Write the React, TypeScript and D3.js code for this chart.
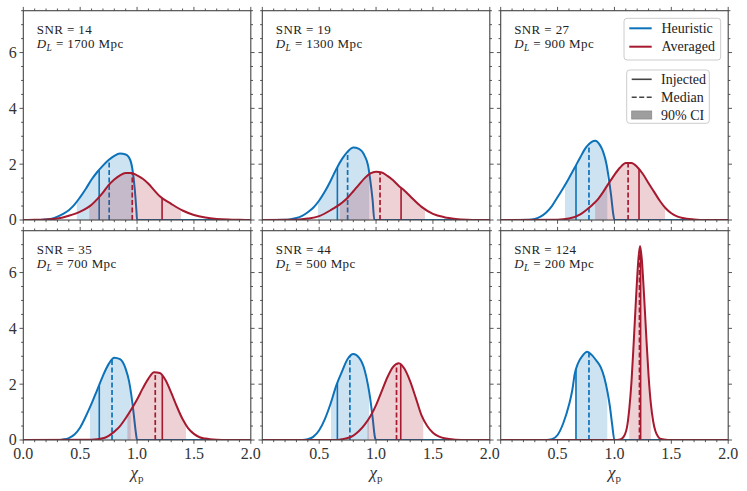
// @ts-nocheck

import { useEffect, useRef } from "react";
import * as d3 from "d3";

const snrs = [14, 19, 27, 35, 44, 124];
const distances = [1700, 1300, 900, 700, 500, 200];

// [chi_p, density]
const heuristic14 = [[0,0],[0.15,0],[0.2,0.02],[0.25,0.05],[0.3,0.12],[0.35,0.22],[0.4,0.35],[0.45,0.55],[0.5,0.82],[0.55,1.12],[0.6,1.45],[0.65,1.72],[0.7,1.95],[0.75,2.15],[0.8,2.3],[0.85,2.38],[0.9,2.35],[0.94,2.15],[0.96,1.8],[0.98,1.1],[0.995,0.3],[1.0,0],[2,0]];
const averaged14 = [[0,0],[0.1,0.005],[0.2,0.015],[0.3,0.05],[0.4,0.15],[0.5,0.3],[0.6,0.55],[0.65,0.75],[0.7,0.98],[0.75,1.25],[0.8,1.45],[0.85,1.6],[0.9,1.68],[0.95,1.68],[1.0,1.6],[1.05,1.48],[1.1,1.3],[1.15,1.07],[1.2,0.85],[1.3,0.58],[1.4,0.34],[1.5,0.18],[1.6,0.09],[1.7,0.04],[1.8,0.015],[1.9,0.005],[2,0]];
const heuristic19 = [[0,0],[0.2,0.01],[0.25,0.03],[0.3,0.07],[0.35,0.15],[0.4,0.28],[0.45,0.45],[0.5,0.7],[0.55,1.02],[0.6,1.4],[0.65,1.82],[0.7,2.18],[0.75,2.45],[0.8,2.6],[0.85,2.55],[0.9,2.3],[0.93,1.95],[0.95,1.4],[0.97,0.7],[0.985,0],[2,0]];
const averaged19 = [[0,0],[0.3,0.01],[0.4,0.05],[0.5,0.14],[0.6,0.35],[0.7,0.62],[0.75,0.8],[0.8,1.03],[0.85,1.27],[0.9,1.5],[0.95,1.67],[1.0,1.73],[1.05,1.7],[1.1,1.58],[1.15,1.42],[1.2,1.22],[1.25,1.05],[1.3,0.85],[1.4,0.47],[1.5,0.22],[1.6,0.1],[1.7,0.04],[1.8,0.01],[1.9,0],[2,0]];
const heuristic27 = [[0,0],[0.25,0.01],[0.3,0.04],[0.35,0.12],[0.4,0.27],[0.45,0.5],[0.5,0.82],[0.55,1.15],[0.6,1.5],[0.65,1.87],[0.7,2.25],[0.75,2.6],[0.8,2.8],[0.83,2.84],[0.87,2.7],[0.9,2.45],[0.93,2.0],[0.95,1.5],[0.97,0.9],[0.99,0.2],[1.0,0],[2,0]];
const averaged27 = [[0,0],[0.5,0.01],[0.6,0.05],[0.7,0.2],[0.75,0.35],[0.8,0.52],[0.85,0.72],[0.9,1.0],[0.95,1.32],[1.0,1.62],[1.05,1.88],[1.1,2.04],[1.15,2.04],[1.2,1.9],[1.25,1.65],[1.3,1.32],[1.35,1.0],[1.4,0.68],[1.45,0.42],[1.5,0.24],[1.55,0.13],[1.6,0.07],[1.7,0.02],[1.8,0],[2,0]];
const heuristic35 = [[0,0],[0.3,0],[0.35,0.02],[0.4,0.07],[0.45,0.2],[0.5,0.45],[0.55,0.85],[0.6,1.3],[0.65,1.8],[0.7,2.3],[0.75,2.72],[0.8,2.95],[0.85,2.9],[0.9,2.55],[0.93,2.1],[0.95,1.6],[0.97,0.95],[0.99,0.25],[1.0,0],[2,0]];
const averaged35 = [[0,0],[0.6,0.01],[0.7,0.06],[0.75,0.15],[0.8,0.3],[0.85,0.5],[0.9,0.78],[0.95,1.1],[1.0,1.45],[1.05,1.85],[1.1,2.2],[1.15,2.43],[1.2,2.4],[1.25,2.15],[1.3,1.7],[1.35,1.2],[1.4,0.75],[1.45,0.42],[1.5,0.22],[1.55,0.1],[1.6,0.05],[1.7,0.01],[1.8,0],[2,0]];
const heuristic44 = [[0,0],[0.35,0],[0.4,0.03],[0.45,0.12],[0.5,0.35],[0.55,0.75],[0.6,1.3],[0.65,1.95],[0.7,2.45],[0.75,2.9],[0.8,3.08],[0.85,2.95],[0.9,2.5],[0.93,1.95],[0.95,1.45],[0.97,0.8],[0.99,0.1],[1.0,0],[2,0]];
const averaged44 = [[0,0],[0.65,0],[0.7,0.03],[0.75,0.07],[0.8,0.16],[0.85,0.32],[0.9,0.55],[0.95,0.85],[1.0,1.25],[1.05,1.75],[1.1,2.25],[1.15,2.62],[1.2,2.75],[1.25,2.55],[1.3,2.1],[1.35,1.5],[1.4,0.88],[1.45,0.5],[1.5,0.26],[1.55,0.13],[1.6,0.06],[1.7,0.01],[1.8,0],[2,0]];
const heuristic124 = [[0,0],[0.4,0],[0.45,0.03],[0.5,0.18],[0.55,0.6],[0.6,1.25],[0.63,1.8],[0.65,2.35],[0.68,2.75],[0.72,3.02],[0.76,3.16],[0.8,3.05],[0.84,2.85],[0.88,2.6],[0.91,2.25],[0.94,1.7],[0.96,1.2],[0.98,0.55],[1.0,0],[2,0]];
const averaged124 = [[0,0],[1.0,0],[1.05,0.02],[1.07,0.06],[1.09,0.18],[1.11,0.45],[1.13,1.1],[1.15,2.1],[1.17,3.55],[1.19,5.1],[1.21,6.45],[1.225,6.95],[1.24,6.5],[1.26,5.2],[1.28,3.7],[1.3,2.3],[1.32,1.3],[1.34,0.68],[1.36,0.32],[1.38,0.14],[1.4,0.05],[1.45,0.01],[1.5,0],[2,0]];

const heuristicCurves = [heuristic14, heuristic19, heuristic27, heuristic35, heuristic44, heuristic124];
const averagedCurves = [averaged14, averaged19, averaged27, averaged35, averaged44, averaged124];

const heuristicInjected = [0.667, 0.66, 0.662, 0.668, 0.66, 0.662];
const heuristicMedian = [0.755, 0.75, 0.776, 0.78, 0.77, 0.776];
const heuristicCI = [[0.47, 0.965], [0.49, 0.94], [0.565, 0.937], [0.586, 0.944], [0.604, 0.938], [0.653, 0.937]];
const averagedInjected = [1.22, 1.22, 1.216, 1.222, 1.217, 1.23];
const averagedMedian = [0.958, 1.035, 1.12, 1.16, 1.18, 1.22];
const averagedCI = [[0.58, 1.386], [0.68, 1.43], [0.83, 1.445], [0.915, 1.43], [0.923, 1.415], [1.13, 1.32]];

const xTicks = [0, 0.5, 1.0, 1.5, 2.0];
const xTickLabels = ["0.0", "0.5", "1.0", "1.5", "2.0"];
const yTicks = [0, 2, 4, 6];

const BLUE = "#0c72ba";
const RED = "#a6192e";
const FONT = "'Liberation Serif', 'DejaVu Serif', serif";

const App = () => {
  const ref = useRef(null);

  useEffect(() => {
    const svg = d3.select(ref.current);
    svg.selectAll("*").remove();

    const lefts = [23.3, 262.3, 500.7];
    const tops = [10.7, 230.7];
    const w = 227.5;
    const h = 209.3;

    const x = d3.scaleLinear().domain([0, 2]).range([0, w]);
    const y = d3.scaleLinear().domain([0, 7.5]).range([h, 0]);
    const defs = svg.append("defs");

    const line = d3.line().x((d) => x(d[0])).y((d) => y(d[1])).curve(d3.curveMonotoneX);
    const area = d3.area().x((d) => x(d[0])).y0(y(0)).y1((d) => y(d[1])).curve(d3.curveMonotoneX);

    snrs.forEach((snr, i) => {
      const col = i % 3;
      const row = Math.floor(i / 3);
      const g = svg.append("g").attr("transform", `translate(${lefts[col]},${tops[row]})`);

      defs.append("clipPath").attr("id", `panel-${i}`)
        .append("rect").attr("width", w).attr("height", h);

      const plot = g.append("g").attr("clip-path", `url(#panel-${i})`);

      const series = [
        { key: "h", curve: heuristicCurves[i], inj: heuristicInjected[i], med: heuristicMedian[i], ci: heuristicCI[i], color: BLUE },
        { key: "a", curve: averagedCurves[i], inj: averagedInjected[i], med: averagedMedian[i], ci: averagedCI[i], color: RED },
      ];

      series.forEach((s) => {
        const areaId = `area-${i}-${s.key}`;
        const ciId = `ci-${i}-${s.key}`;
        defs.append("clipPath").attr("id", areaId).append("path").attr("d", area(s.curve));
        defs.append("clipPath").attr("id", ciId)
          .append("rect")
          .attr("x", x(s.ci[0]))
          .attr("y", 0)
          .attr("width", x(s.ci[1]) - x(s.ci[0]))
          .attr("height", h);

        plot.append("g").attr("clip-path", `url(#${ciId})`)
          .append("path")
          .attr("d", area(s.curve))
          .attr("fill", s.color)
          .attr("fill-opacity", 0.2);

        const vl = plot.append("g").attr("clip-path", `url(#${areaId})`);
        vl.append("line")
          .attr("x1", x(s.inj)).attr("x2", x(s.inj))
          .attr("y1", y(0)).attr("y2", 0)
          .attr("stroke", s.color).attr("stroke-width", 1.6);
        vl.append("line")
          .attr("x1", x(s.med)).attr("x2", x(s.med))
          .attr("y1", y(0)).attr("y2", 0)
          .attr("stroke", s.color).attr("stroke-width", 1.7)
          .attr("stroke-dasharray", "5,2.5");

        plot.append("path")
          .attr("d", line(s.curve))
          .attr("fill", "none")
          .attr("stroke", s.color)
          .attr("stroke-width", 2);
      });

      // frame and ticks
      const axisColor = "#444";
      g.append("rect").attr("width", w).attr("height", h)
        .attr("fill", "none").attr("stroke", axisColor).attr("stroke-width", 1.1);

      const tk = g.append("g").attr("stroke", axisColor).attr("stroke-width", 0.9);
      x.ticks(20).forEach((t) => {
        const major = xTicks.some((m) => Math.abs(m - t) < 1e-6);
        const len = major ? 3.8 : 2.2;
        tk.append("line").attr("x1", x(t)).attr("x2", x(t)).attr("y1", h).attr("y2", h + len);
        tk.append("line").attr("x1", x(t)).attr("x2", x(t)).attr("y1", 0).attr("y2", -len);
      });
      y.ticks(15).forEach((t) => {
        const major = yTicks.includes(t);
        const len = major ? 3.8 : 2.2;
        tk.append("line").attr("y1", y(t)).attr("y2", y(t)).attr("x1", 0).attr("x2", -len);
        tk.append("line").attr("y1", y(t)).attr("y2", y(t)).attr("x1", w).attr("x2", w + len);
      });

      if (col === 0) {
        yTicks.forEach((t) => {
          g.append("text")
            .attr("x", -6.5)
            .attr("y", y(t))
            .attr("dy", "0.34em")
            .attr("text-anchor", "end")
            .attr("font-family", FONT)
            .attr("font-size", 16)
            .attr("fill", "#333")
            .text(t);
        });
      }
      if (row === 1) {
        xTicks.forEach((t, k) => {
          if (col > 0 && k === 0) return;
          g.append("text")
            .attr("x", x(t))
            .attr("y", h + 19)
            .attr("text-anchor", "middle")
            .attr("font-family", FONT)
            .attr("font-size", 16)
            .attr("fill", "#333")
            .text(xTickLabels[k]);
        });
        const xl = g.append("text")
          .attr("x", w / 2)
          .attr("y", h + 38)
          .attr("text-anchor", "middle")
          .attr("font-family", FONT)
          .attr("font-size", 17)
          .attr("fill", "#333");
        xl.append("tspan").attr("font-style", "italic").text("χ");
        xl.append("tspan").attr("font-size", 11).attr("dy", 4).text("p");
      }

      // annotation
      g.append("text")
        .attr("x", 13.5)
        .attr("y", 23.5)
        .attr("font-family", FONT)
        .attr("font-size", 13)
        .attr("letter-spacing", 0.4)
        .attr("fill", "#222")
        .style("white-space", "pre")
        .text(`SNR = ${snr}`);
      const dl = g.append("text")
        .attr("x", 13.5)
        .attr("y", 37.5)
        .attr("font-family", FONT)
        .attr("font-size", 13)
        .attr("letter-spacing", 0.4)
        .attr("fill", "#222")
        .style("white-space", "pre");
      dl.append("tspan").attr("font-style", "italic").text("D");
      dl.append("tspan").attr("font-style", "italic").attr("font-size", 9.5).attr("dy", 2.5).text("L");
      dl.append("tspan").attr("dy", -2.5).text(` = ${distances[i]} Mpc`);
    });

    // legends
    const lg = svg.append("g").attr("font-family", FONT).attr("font-size", 14).attr("fill", "#222");
    lg.append("rect").attr("x", 624).attr("y", 18.3).attr("width", 96.7).attr("height", 41.7)
      .attr("rx", 3).attr("fill", "white").attr("fill-opacity", 0.85).attr("stroke", "#ccc");
    [["Heuristic", BLUE, 28.3], ["Averaged", RED, 46.7]].forEach(([label, color, yy]) => {
      lg.append("line").attr("x1", 629.3).attr("x2", 651.7).attr("y1", yy).attr("y2", yy)
        .attr("stroke", color).attr("stroke-width", 2);
      lg.append("text").attr("x", 661.5).attr("y", yy + 4.6).text(label);
    });

    lg.append("rect").attr("x", 626.7).attr("y", 70).attr("width", 82.6).attr("height", 53.3)
      .attr("rx", 3).attr("fill", "white").attr("fill-opacity", 0.85).attr("stroke", "#ccc");
    lg.append("line").attr("x1", 631.7).attr("x2", 651.7).attr("y1", 79.3).attr("y2", 79.3)
      .attr("stroke", "#444").attr("stroke-width", 1.6);
    lg.append("text").attr("x", 661).attr("y", 84).text("Injected");
    lg.append("line").attr("x1", 631.7).attr("x2", 651.7).attr("y1", 97.3).attr("y2", 97.3)
      .attr("stroke", "#444").attr("stroke-width", 1.6).attr("stroke-dasharray", "5,2.5");
    lg.append("text").attr("x", 661).attr("y", 102).text("Median");
    lg.append("rect").attr("x", 631.7).attr("y", 111).attr("width", 20).attr("height", 8)
      .attr("fill", "#9e9e9e").attr("stroke", "#8a8a8a").attr("stroke-width", 0.8);
    lg.append("text").attr("x", 661).attr("y", 120).text("90% CI");
  }, []);

  return (
    <svg
      ref={ref}
      width={747}
      height={491}
      style={{ position: "absolute", left: 0, top: 0, background: "white" }}
    />
  );
};

export default App;
